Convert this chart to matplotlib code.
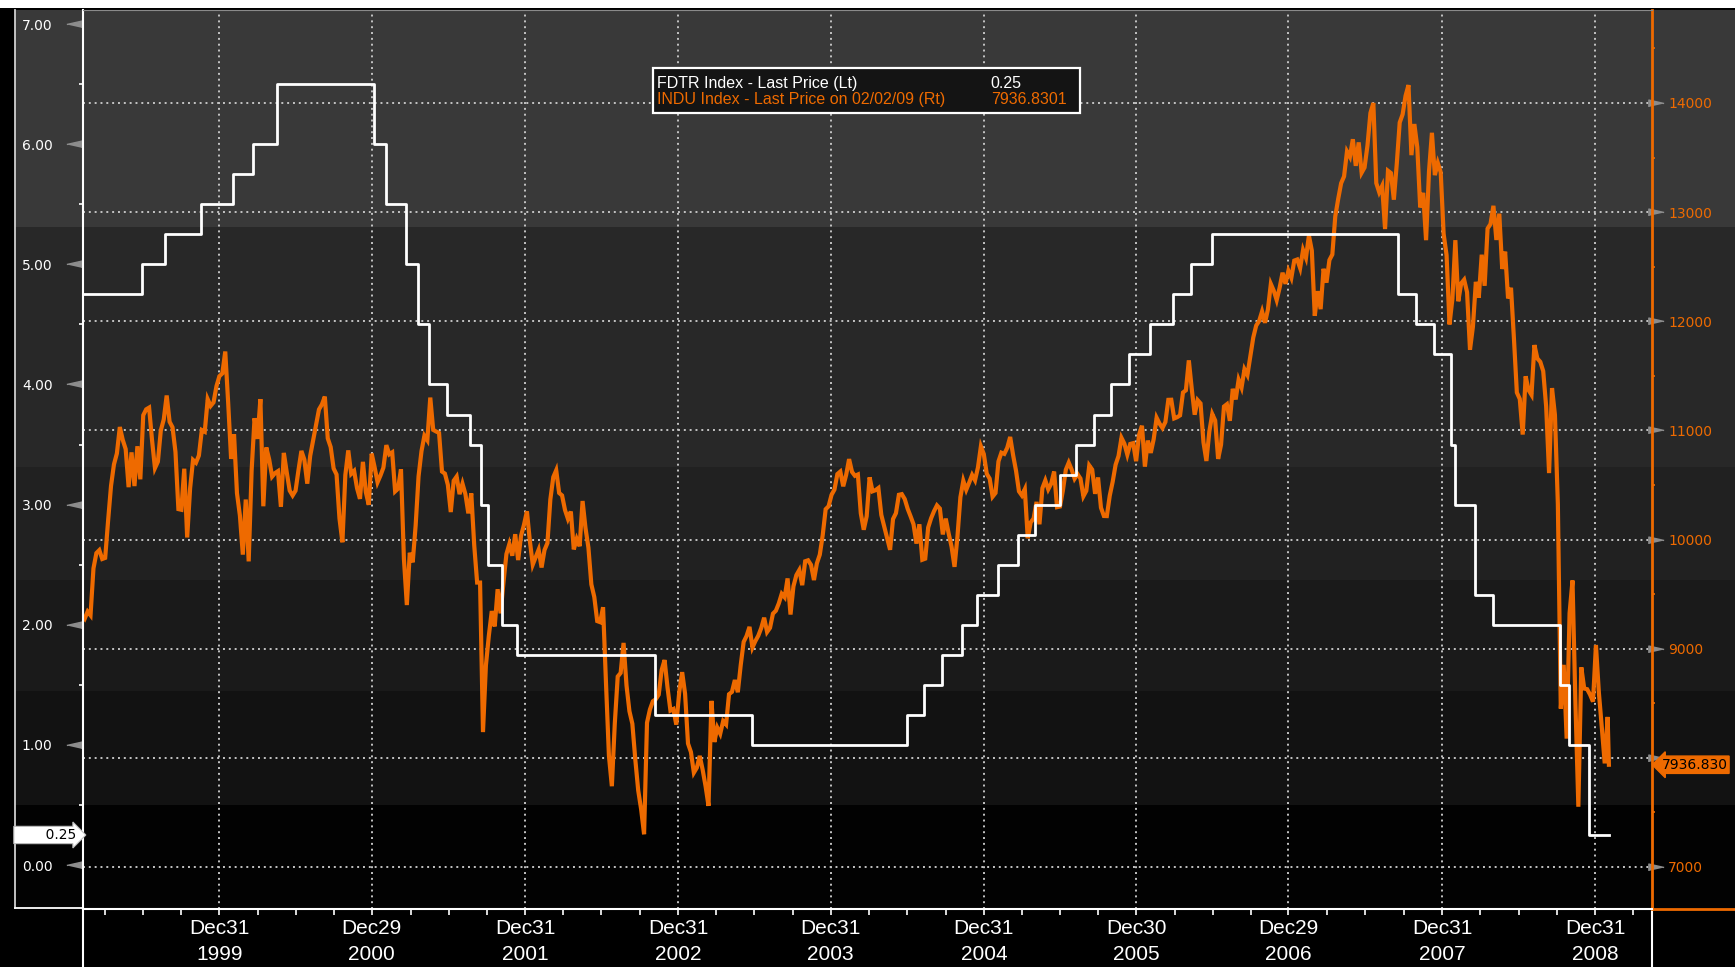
import matplotlib
matplotlib.use("Agg")
import matplotlib.pyplot as plt
import matplotlib.dates as mdates
from matplotlib import font_manager
from matplotlib.lines import Line2D
from matplotlib.patches import Rectangle
from matplotlib.transforms import blended_transform_factory
import numpy as np
import pandas as pd

# ---- data -------------------------------------------------------------
# Fed funds target rate (FDTR), change dates and new level
fdtr_dates = ['1999-02-02', '1999-06-30', '1999-08-24', '1999-11-16', '2000-02-02',
              '2000-03-21', '2000-05-16', '2001-01-03', '2001-01-31', '2001-03-20',
              '2001-04-18', '2001-05-15', '2001-06-27', '2001-08-21', '2001-09-17',
              '2001-10-02', '2001-11-06', '2001-12-11', '2002-11-06', '2003-06-25',
              '2004-06-30', '2004-08-10', '2004-09-21', '2004-11-10', '2004-12-14',
              '2005-02-02', '2005-03-22', '2005-05-03', '2005-06-30', '2005-08-09',
              '2005-09-20', '2005-11-01', '2005-12-13', '2006-01-31', '2006-03-28',
              '2006-05-10', '2006-06-29', '2007-09-18', '2007-10-31', '2007-12-11',
              '2008-01-22', '2008-01-30', '2008-03-18', '2008-04-30', '2008-10-08',
              '2008-10-29', '2008-12-16', '2009-02-02']
fdtr_rates = [4.75, 5.00, 5.25, 5.50, 5.75, 6.00, 6.50, 6.00, 5.50, 5.00,
              4.50, 4.00, 3.75, 3.50, 3.00, 2.50, 2.00, 1.75, 1.25, 1.00,
              1.25, 1.50, 1.75, 2.00, 2.25, 2.50, 2.75, 3.00, 3.25, 3.50,
              3.75, 4.00, 4.25, 4.50, 4.75, 5.00, 5.25, 4.75, 4.50, 4.25,
              3.50, 3.00, 2.25, 2.00, 1.50, 1.00, 0.25, 0.25]

# Dow Jones (INDU), weekly (Fridays)
dow_1999 = [9304, 9274, 9340, 9306, 9736, 9876, 9903, 9822,
            9832, 10173, 10493, 10689, 10789, 11031, 10913, 10829, 10480,
            10799, 10490, 10855, 10552, 11139, 11193, 11209, 10911, 10655,
            10714, 11000, 11100, 11320, 11079, 11028, 10803, 10279,
            10273, 10649, 10019, 10470, 10729, 10704, 10770, 11003, 10988,
            11286, 11224, 11257, 11405, 11497]
dow_2000 = [11522, 11723, 11251, 10739, 10964, 10425, 10220, 9862,
            10367, 9800, 10630, 11112, 10922, 11287, 10305, 10844, 10734,
            10577, 10609, 10627, 10300, 10794, 10615, 10449, 10404, 10448,
            10636, 10812, 10733, 10512, 10767, 10908, 11046, 11192,
            11238, 11310, 10927, 10847, 10651, 10596, 10193, 9975, 10591,
            10817, 10602, 10629, 10470, 10373, 10712, 10434, 10318, 10787]
dow_2001 = [10662, 10525, 10587, 10659, 10865, 10781, 10799, 10441,
            10466, 10644, 9823, 9400, 9879, 9791, 10127, 10579, 10810,
            10951, 10910, 11301, 11005, 10990, 10977, 10623, 10604, 10502,
            10252, 10539, 10577, 10416, 10512, 10416, 10240, 10423, 9950,
            9606, 9606, 8236, 8848, 9120, 9345, 9204, 9545,
            9324, 9608, 9867, 9959, 9852, 10049, 9812, 10035, 10136]
dow_2002 = [10259, 9987, 9771, 9840, 9907, 9744, 9904, 9968,
            10368, 10572, 10635, 10427, 10404, 10271, 10190, 10257, 9910,
            10006, 9939, 10353, 10105, 9925, 9589, 9474, 9253, 9243,
            9380, 8684, 8019, 7740, 8313, 8745, 8778, 9053, 8664,
            8427, 8312, 7986, 7701, 7528, 7300, 8322, 8443,
            8518, 8537, 8579, 8805, 8896, 8646, 8433, 8447, 8304]
dow_2003 = [8601, 8785, 8587, 8131, 8053, 7864, 7909, 8018, 7891,
            7740, 7560, 8522, 8145, 8277, 8221, 8337, 8306,
            8583, 8604, 8713, 8601, 8850, 9062, 9117, 9200, 9011,
            9070, 9119, 9189, 9284, 9153, 9191, 9321, 9348, 9415,
            9503, 9471, 9644, 9313, 9572, 9674, 9721, 9582, 9801,
            9810, 9768, 9629, 9782, 9862, 10042, 10278, 10305]
dow_2004 = [10409, 10458, 10600, 10623, 10488, 10593, 10737, 10620, 10584,
            10596, 10240, 10090, 10213, 10570, 10442, 10452, 10472, 10226,
            10117, 10012, 9906, 10188, 10242, 10410, 10416, 10371,
            10282, 10213, 10140, 9963, 10140, 9815, 9825, 10110, 10195,
            10260, 10313, 10284, 10047, 10192, 10055, 9933, 9750, 10027,
            10387, 10539, 10456, 10522, 10592, 10543, 10661, 10854, 10783]
dow_2005 = [10603, 10558, 10393, 10427, 10716, 10796, 10785, 10841,
            10940, 10774, 10630, 10442, 10404, 10461, 10012, 10157, 10193,
            10345, 10140, 10471, 10542, 10460, 10512, 10623, 10297,
            10303, 10449, 10640, 10705, 10641, 10558, 10600, 10559, 10397,
            10447, 10679, 10641, 10419, 10569, 10292, 10216, 10215, 10402,
            10530, 10686, 10766, 10932, 10878, 10778, 10876, 10883, 10718]
dow_2006 = [10959, 11043, 10668, 10907, 10794, 10920, 11116, 11062,
            11022, 11077, 11280, 11281, 11110, 11121, 11138, 11347, 11368,
            11642, 11380, 11144, 11278, 11247, 10891, 10720, 10990, 11150,
            11091, 10739, 10869, 11219, 11240, 11088, 11381, 11284,
            11464, 11393, 11560, 11508, 11679, 11851, 11961, 12002, 12090,
            11986, 12108, 12342, 12280, 12194, 12307, 12445, 12343, 12463]
dow_2007 = [12398, 12556, 12566, 12487, 12653, 12581, 12786, 12647,
            12050, 12276, 12111, 12481, 12354, 12561, 12612, 12961, 13121,
            13265, 13327, 13556, 13507, 13668, 13424, 13639, 13361, 13409,
            13612, 13908, 14000, 13266, 13182, 13240, 12845, 13379, 13358,
            13114, 13443, 13821, 13896, 14066, 14164, 13522, 13807,
            13596, 13043, 13177, 12743, 13372, 13727, 13339, 13451, 13366]
dow_2008 = [12800, 12606, 11971, 12207, 12743, 12183, 12348, 12381, 12266,
            11740, 11951, 12361, 12216, 12610, 12325, 12849, 12891,
            13058, 12745, 12986, 12479, 12638, 12209, 12307, 11843, 11347,
            11288, 10962, 11496, 11370, 11326, 11782, 11659, 11628, 11543,
            11220, 10609, 11388, 11143, 10325, 8451, 8852, 8176, 9325,
            9625, 8497, 7552, 8829, 8635, 8629, 8579, 8515]
dow_2009 = [9034, 8599, 8281, 7949, 8375]
dow_last_date = '2009-02-02'
dow_last = 7936.8301

year_ends = ['1999-12-31', '2000-12-29', '2001-12-31', '2002-12-31', '2003-12-31',
             '2004-12-31', '2005-12-30', '2006-12-29', '2007-12-31', '2008-12-31']
series_names = ['FDTR Index - Last Price (Lt)',
                'INDU Index - Last Price on 02/02/09 (Rt)']

# ---- styling ----------------------------------------------------------
W, H = 1735, 967
ORANGE = '#ee6a00'
GRID = '#c4c4c4'
RATE_LIM = (-0.366, 7.117)
DOW_LIM = (6615, 14852)
band_edges = [RATE_LIM[0], 0.5, 1.45, 2.37, 3.31, 5.31, RATE_LIM[1]]
band_colors = ['#020202', '#121212', '#1a1a1a', '#212121', '#282828', '#393939']

names = {f.name for f in font_manager.fontManager.ttflist}
NARROW = 'Liberation Sans Narrow' if 'Liberation Sans Narrow' in names else 'Liberation Sans'


def box(x0, y0, x1, y1):
    # pixel box (top-left origin) -> figure fraction rect
    return [x0 / W, 1 - y1 / H, (x1 - x0) / W, (y1 - y0) / H]


def fig_line(x0, y0, x1, y1, **kw):
    fig.add_artist(Line2D([x0 / W, x1 / W], [1 - y0 / H, 1 - y1 / H], **kw))


# build the weekly dow series
dow_dates, dow_vals = [], []
for yr, vals in [(1999, dow_1999), (2000, dow_2000), (2001, dow_2001), (2002, dow_2002),
                 (2003, dow_2003), (2004, dow_2004), (2005, dow_2005), (2006, dow_2006),
                 (2007, dow_2007), (2008, dow_2008), (2009, dow_2009)]:
    start = '1999-02-05' if yr == 1999 else f'{yr}-01-01'
    dow_dates += list(pd.date_range(start, periods=len(vals), freq='W-FRI'))
    dow_vals += vals
dow_dates.append(pd.Timestamp(dow_last_date))
dow_vals.append(dow_last)
dow_dates = np.array(dow_dates, dtype='datetime64[D]')
fdtr_x = np.array(fdtr_dates, dtype='datetime64[D]')
ye = np.array(year_ends, dtype='datetime64[D]')

fig = plt.figure(figsize=(W / 100, H / 100), dpi=100, facecolor='black')
fig.patches.append(Rectangle((0, 1 - 8 / H), 1, 8 / H, transform=fig.transFigure,
                             fc='white', ec='none'))

# background bands (span left panel, plot and right panel)
bg = fig.add_axes(box(15, 10, 1735, 909))
bg.set_ylim(RATE_LIM)
bg.axis('off')
for lo, hi, c in zip(band_edges[:-1], band_edges[1:], band_colors):
    bg.axhspan(lo, hi, color=c, lw=0)

ax = fig.add_axes(box(83, 10, 1652, 909))
ax2 = ax.twinx()
ax.set_zorder(3)
ax2.set_zorder(2)
ax.patch.set_visible(False)
ax2.patch.set_visible(False)

xlim = (np.datetime64('1999-02-08'), np.datetime64('2009-05-16'))
ax.set_xlim(xlim)
ax.set_ylim(RATE_LIM)
ax2.set_ylim(DOW_LIM)

# grid
dow_ticks = np.arange(7000, 14001, 1000)
ax2.set_yticks(dow_ticks)
ax2.grid(axis='y', color=GRID, ls=(0, (1, 2)), lw=1.4)
for d in ye:
    ax2.axvline(d, color=GRID, ls=(0, (1, 2)), lw=1.4, zorder=1.5)

# series
ax2.plot(dow_dates, dow_vals, color=ORANGE, lw=3.0, solid_joinstyle='miter', zorder=2)
ax.plot(fdtr_x, fdtr_rates, drawstyle='steps-post', color='white', lw=2.0, zorder=3)

# left axis
ax.set_yticks(np.arange(0, 8))
ax.set_yticklabels([f'{v:.2f}' for v in range(8)])
ax.set_yticks(np.arange(0.5, 7, 1.0), minor=True)
ax.tick_params(axis='y', which='major', length=0, pad=22, labelcolor='white', labelsize=10)
ax.tick_params(axis='y', which='minor', length=3, width=1.2, color='white')
tl = blended_transform_factory(ax.transAxes, ax.transData)
ax.plot(np.full(8, -0.0057), np.arange(8), ls='none', color='#8c8c8c', ms=11,
        marker=[(-1, 0), (1, 0.45), (1, -0.45)], transform=tl, clip_on=False)

# right axis (the 8000 label sits under the last-price flag)
ax2.set_yticklabels(['' if v == 8000 else f'{v}' for v in dow_ticks])
ax2.set_yticks(np.arange(7500, 14600, 1000), minor=True)
ax2.tick_params(axis='y', which='major', length=0, pad=11.5, labelcolor=ORANGE, labelsize=10)
ax2.tick_params(axis='y', which='minor', length=2.5, width=1.2, color=ORANGE)
tr = blended_transform_factory(ax2.transAxes, ax2.transData)
ax2.plot(np.full(8, 1.0025), dow_ticks, ls='none', color='#8c8c8c',
         ms=11, marker=[(1, 0), (-1, 0.45), (-1, -0.45)], transform=tr, clip_on=False)

# x axis
ax.set_xticks(ye)
ax.set_xticklabels([f"Dec{str(d)[8:10]}\n{str(d)[:4]}" for d in ye],
                   fontfamily=NARROW, linespacing=1.5)
ax.xaxis.set_minor_locator(mdates.MonthLocator(bymonth=[4, 7, 10]))
ax.tick_params(axis='x', which='major', length=4, width=1.2, color='white',
               labelcolor='white', labelsize=15, pad=3)
ax.tick_params(axis='x', which='minor', length=4, width=1.2, color='white')

# spines
ax.spines['right'].set_visible(False)
ax.spines['left'].set_color('white')
ax.spines['bottom'].set_color('white')
ax.spines['left'].set_linewidth(1.5)
ax.spines['bottom'].set_linewidth(1.5)
ax.spines['top'].set_color('#8a8a8a')
for s in ['left', 'top', 'bottom']:
    ax2.spines[s].set_visible(False)
ax2.spines['right'].set_color(ORANGE)
ax2.spines['right'].set_linewidth(2)

# panel borders
fig_line(15, 10, 15, 908, color='#d0d0d0', lw=1.3)
fig_line(15, 908, 83, 908, color='white', lw=1.3)
fig_line(1652, 909, 1735, 909, color=ORANGE, lw=2)
fig_line(83, 909, 83, 967, color='white', lw=1.5)
fig_line(1652, 909, 1652, 967, color='white', lw=1.5)

# last value flags
ax.annotate(f'       {fdtr_rates[-1]:.2f}', xy=(-0.004, fdtr_rates[-1]),
            xycoords=('axes fraction', 'data'), ha='right', va='center',
            fontsize=10, color='black', annotation_clip=False,
            bbox=dict(boxstyle='rarrow,pad=0.12', fc='white', ec='#bbbbbb', lw=0.8))
ax2.annotate(f'{dow_last:.3f}', xy=(1.006, dow_last),
             xycoords=('axes fraction', 'data'), ha='left', va='center',
             fontsize=10, color='black', annotation_clip=False,
             bbox=dict(boxstyle='larrow,pad=0.12', fc=ORANGE, ec=ORANGE))

# legend box
ax.add_patch(Rectangle((0.3633, 0.8854), 0.2721, 0.0501, transform=ax.transAxes,
                       fc='#141414', ec='white', lw=1.6, zorder=6, clip_on=False))
leg_kw = dict(transform=ax.transAxes, fontsize=11.5, fontfamily=NARROW, va='center', zorder=7)
ax.text(0.3658, 0.9177, series_names[0], color='white', **leg_kw)
ax.text(0.5785, 0.9177, f'{fdtr_rates[-1]:.2f}', color='white', **leg_kw)
ax.text(0.3658, 0.8999, series_names[1], color=ORANGE, **leg_kw)
ax.text(0.5785, 0.8999, f'{dow_last:.4f}', color=ORANGE, **leg_kw)

fig.savefig('out.png', dpi=100, facecolor=fig.get_facecolor())
